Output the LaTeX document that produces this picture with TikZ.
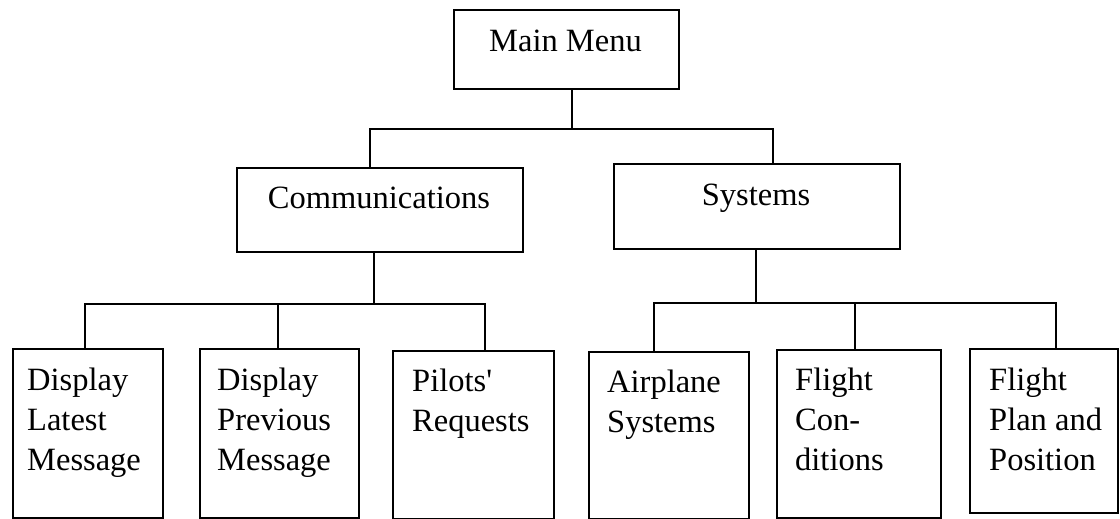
\documentclass[tikz,border=0pt]{standalone}
\usepackage{fontspec}
\setmainfont{Liberation Serif}
\newfontfamily\plainserif{Liberation Serif}
\begin{document}
\begin{tikzpicture}[x=1pt,y=-1pt,
  box/.style={draw, line width=1.6pt, rectangle, inner sep=0pt, anchor=north west},
  txt/.style={font=\fontsize{32.5}{40}\selectfont, inner sep=0pt, align=left, anchor=north west},
  ttl/.style={font=\fontsize{32.5}{40}\selectfont, inner sep=0pt, anchor=base},
  wire/.style={line width=1.6pt}]
\useasboundingbox (0,0) rectangle (1120,519);

% top level
\node[box, minimum width=225pt, minimum height=79pt] (mm) at (453,9) {};
\node[ttl] (mmt) at (565.5,52) {Main Menu};

% second level
\node[box, minimum width=286pt, minimum height=84pt] (comm) at (236,167) {};
\node[ttl] (commt) at (379,208) {Communications};
\node[box, minimum width=286pt, minimum height=85pt] (sys) at (613,163) {};
\node[ttl] (syst) at (756,205) {Systems};

% leaves
\node[box, minimum width=150pt, minimum height=169pt] (dl) at (12,348) {};
\node[txt] (dlt) at (27,362) {\strut Display\\\strut Latest\\\strut Message};
\node[box, minimum width=159pt, minimum height=169pt] (dp) at (199,348) {};
\node[txt] (dpt) at (217,362) {\strut Display\\\strut Previous\\\strut Message};
\node[box, minimum width=161pt, minimum height=168pt] (pr) at (392,350) {};
\node[txt] (prt) at (412,363) {\strut {\plainserif Pilots'}\\\strut Requests};
\node[box, minimum width=160pt, minimum height=167pt] (as) at (588,351) {};
\node[txt] (ast) at (607,364) {\strut Airplane\\\strut Systems};
\node[box, minimum width=164pt, minimum height=168pt] (fc) at (776,349) {};
\node[txt] (fct) at (795,362) {\strut Flight\\\strut Con-\\\strut ditions};
\node[box, minimum width=148pt, minimum height=164pt] (fp) at (969,348) {};
\node[txt] (fpt) at (989,362) {\strut Flight\\\strut Plan and\\\strut Position};

% junction coordinates
\coordinate (j0) at (572,129);
\coordinate (j0l) at (370,129);
\coordinate (j0r) at (773,129);
\coordinate (j1) at (374,304);
\coordinate (j1a) at (85,304);
\coordinate (j1b) at (278,304);
\coordinate (j1c) at (485,304);
\coordinate (j2) at (756,303);
\coordinate (j2a) at (654,303);
\coordinate (j2b) at (855,303);
\coordinate (j2c) at (1056,303);

% connectors
\draw[wire] (mm.south -| j0) -- (j0);
\draw[wire] (comm.north -| j0l) -- (j0l) -- (j0r) -- (sys.north -| j0r);

\draw[wire] (comm.south -| j1) -- (j1);
\draw[wire] (dl.north -| j1a) -- (j1a) -- (j1c) -- (pr.north -| j1c);
\draw[wire] (j1b) -- (dp.north -| j1b);

\draw[wire] (sys.south -| j2) -- (j2);
\draw[wire] (as.north -| j2a) -- (j2a) -- (j2c) -- (fp.north -| j2c);
\draw[wire] (j2b) -- (fc.north -| j2b);
\end{tikzpicture}
\end{document}
